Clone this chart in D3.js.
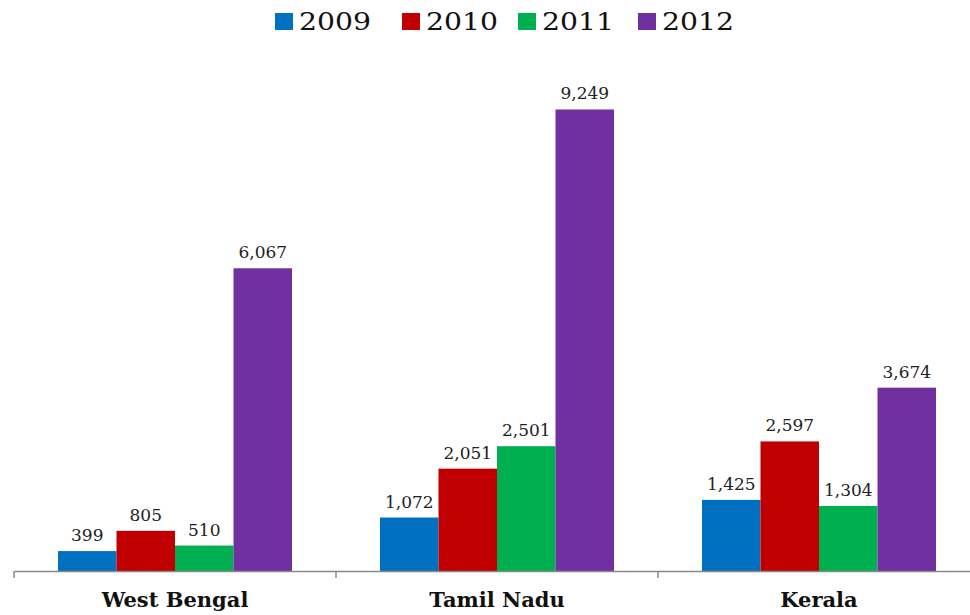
<!DOCTYPE html>
<html>
<head>
<meta charset="utf-8">
<script src="https://cdn.jsdelivr.net/npm/d3@7/dist/d3.min.js"></script>
<style>
  html, body { margin: 0; padding: 0; background: #fff; }
  svg { display: block; }
</style>
</head>
<body>
<svg id="chart" width="970" height="615"></svg>
<script>
// Categories, series and values
const states = ["West Bengal", "Tamil Nadu", "Kerala"];
const years = ["2009", "2010", "2011", "2012"];
const values2009 = [399, 1072, 1425];
const values2010 = [805, 2051, 2597];
const values2011 = [510, 2501, 1304];
const values2012 = [6067, 9249, 3674];
const seriesColors = ["#0070C0", "#C00000", "#00B050", "#7030A0"];

const seriesValues = [values2009, values2010, values2011, values2012];
const rows = states.map((s, i) => ({
  state: s,
  vals: years.map((y, j) => ({ year: y, value: seriesValues[j][i], idx: j }))
}));

const svg = d3.select("#chart");
const baseY = 571;

const x0 = d3.scaleBand().domain(states).range([14, 980]).padding(0);
const x1 = d3.scaleBand().domain(years).range([44, x0.bandwidth() - 44]).padding(0);
const y = d3.scaleLinear().domain([0, 10000]).range([baseY, 72]);

const fmt = d3.format(",");

// Bars
const groups = svg.append("g").selectAll("g")
  .data(rows).join("g")
  .attr("transform", d => `translate(${x0(d.state)},0)`);

groups.selectAll("rect")
  .data(d => d.vals).join("rect")
  .attr("x", d => x1(d.year))
  .attr("y", d => y(d.value))
  .attr("width", x1.bandwidth())
  .attr("height", d => baseY - y(d.value))
  .attr("fill", d => seriesColors[d.idx]);

// Value labels
groups.selectAll("text")
  .data(d => d.vals).join("text")
  .attr("x", d => x1(d.year) + x1.bandwidth() / 2)
  .attr("y", d => y(d.value) - 10)
  .attr("text-anchor", "middle")
  .attr("font-family", "'DejaVu Serif', serif")
  .attr("font-size", 17)
  .attr("fill", "#222")
  .text(d => fmt(d.value));

// Category axis
const axis = svg.append("g")
  .attr("transform", `translate(0,${baseY})`)
  .call(d3.axisBottom(x0).tickSize(0).tickFormat(""));
axis.select(".domain").attr("stroke", "#888").attr("stroke-width", 1.5);

// Tick marks at band boundaries
svg.append("g").selectAll("line")
  .data(states).join("line")
  .attr("x1", d => x0(d)).attr("x2", d => x0(d))
  .attr("y1", baseY).attr("y2", baseY + 7)
  .attr("stroke", "#888").attr("stroke-width", 1.5);

// Category labels
svg.append("g").selectAll("text")
  .data(states).join("text")
  .attr("x", d => x0(d) + x0.bandwidth() / 2)
  .attr("y", 607)
  .attr("text-anchor", "middle")
  .attr("font-family", "'DejaVu Serif', serif")
  .attr("font-weight", "bold")
  .attr("font-size", 21)
  .attr("fill", "#111")
  .text(d => d);

// Legend
const legendX = [275, 402, 518, 638];
const legend = svg.append("g").selectAll("g")
  .data(years).join("g")
  .attr("transform", (d, i) => `translate(${legendX[i]},13)`);
legend.append("rect")
  .attr("width", 18).attr("height", 17)
  .attr("fill", (d, i) => seriesColors[i]);
legend.append("text")
  .attr("x", 24).attr("y", 17)
  .attr("font-family", "'DejaVu Serif', serif")
  .attr("font-size", 24)
  .attr("fill", "#111")
  .attr("textLength", 72)
  .attr("lengthAdjust", "spacingAndGlyphs")
  .text(d => d);
</script>
</body>
</html>
